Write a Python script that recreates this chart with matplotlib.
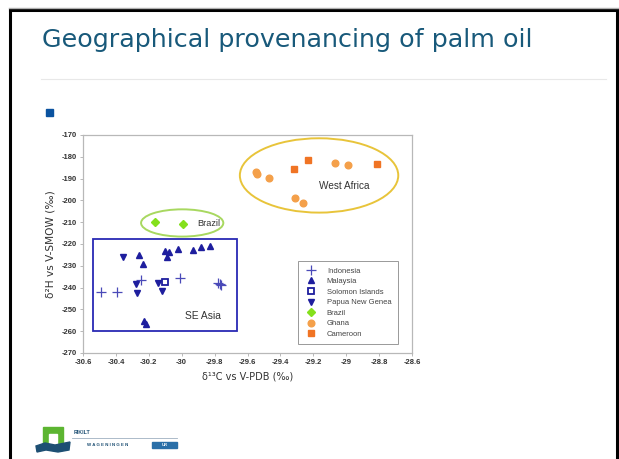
import matplotlib
matplotlib.use("Agg")
import matplotlib.pyplot as plt
from matplotlib.patches import Ellipse, Rectangle, Polygon
from matplotlib.lines import Line2D
from matplotlib.ticker import FuncFormatter

# ---- data ----
indonesia_x = [-30.49, -30.395, -30.247, -30.01, -29.78, -29.76, -29.77]
indonesia_y = [-242.2, -241.9, -236.5, -235.8, -237.9, -239.0, -238.5]
malaysia_x = [-30.258, -30.237, -30.10, -30.08, -30.09, -30.02, -29.93, -29.88, -29.83, -30.23, -30.22]
malaysia_y = [-225.0, -229.3, -223.3, -223.6, -226.0, -222.1, -222.7, -221.5, -220.8, -255.5, -256.6]
solomon_x = [-30.10]
solomon_y = [-237.6]
papua_x = [-30.359, -30.278, -30.274, -30.146, -30.122]
papua_y = [-226.1, -238.5, -242.6, -238.0, -241.6]
brazil_x = [-30.16, -29.99]
brazil_y = [-210.0, -210.8]
ghana_x = [-29.55, -29.54, -29.47, -29.31, -29.26, -29.07, -28.99]
ghana_y = [-187.1, -188.0, -189.5, -198.7, -201.0, -182.7, -183.7]
cameroon_x = [-29.32, -29.23, -28.81]
cameroon_y = [-185.7, -181.6, -183.1]

x_ticks = [-30.6, -30.4, -30.2, -30.0, -29.8, -29.6, -29.4, -29.2, -29.0, -28.8, -28.6]
y_ticks = [-170, -180, -190, -200, -210, -220, -230, -240, -250, -260, -270]

W, H = 619, 459
fig = plt.figure(figsize=(W / 100, H / 100), dpi=100)
fig.patch.set_facecolor("white")

def fx(px):
    return px / W

def fy(py):
    return 1 - py / H

# ---- slide decorations ----
fig.add_artist(Line2D([fx(9.5), fx(9.5)], [fy(10), fy(470)], color="black", lw=2.2, transform=fig.transFigure))
fig.add_artist(Line2D([fx(9.5), fx(619)], [fy(10), fy(10)], color="black", lw=2.2, transform=fig.transFigure))
fig.add_artist(Line2D([fx(616.5), fx(616.5)], [fy(10), fy(470)], color="black", lw=2.2, transform=fig.transFigure))
fig.add_artist(Line2D([fx(9), fx(619)], [fy(7.5), fy(7.5)], color="#b0b0b0", lw=1.0, transform=fig.transFigure))

fig.text(fx(42), fy(40), "Geographical provenancing of palm oil", fontsize=18.3,
         color="#18597a", family="DejaVu Sans", va="center", ha="left")
fig.add_artist(Line2D([fx(41), fx(606)], [fy(79), fy(79)], color="#e8e8e8", lw=0.8, transform=fig.transFigure))
fig.add_artist(Rectangle((fx(46), fy(116)), fx(7), 7 / H, color="#0b53a0", transform=fig.transFigure))

# logo
fig.add_artist(Rectangle((fx(43), fy(444)), fx(20), 17 / H, color="#5cb531", transform=fig.transFigure))
fig.add_artist(Rectangle((fx(49), fy(444)), fx(8), 10 / H, color="white", transform=fig.transFigure))
fig.add_artist(Polygon([(fx(36), fy(446)), (fx(45), fy(443)), (fx(55), fy(445)), (fx(70), fy(442)),
                        (fx(69), fy(450)), (fx(58), fy(452)), (fx(46), fy(450)), (fx(37), fy(452))],
                       closed=True, color="#1d4f73", transform=fig.transFigure))
fig.text(fx(74), fy(432), "RIKILT", fontsize=3.8, color="#1d4f73", family="Liberation Sans",
         fontweight="bold", va="center", ha="left")
fig.add_artist(Line2D([fx(72), fx(177)], [fy(437.5), fy(437.5)], color="#9fb0c0", lw=0.6, transform=fig.transFigure))
fig.text(fx(87), fy(444.5), "W A G E N I N G E N", fontsize=3.2, color="#1d4f73", family="Liberation Sans",
         fontweight="bold", va="center", ha="left")
fig.add_artist(Rectangle((fx(152), fy(448)), fx(25), 6 / H, color="#2a6fa8", transform=fig.transFigure))
fig.text(fx(164.5), fy(445), "UR", fontsize=3.0, color="white", family="Liberation Sans",
         fontweight="bold", va="center", ha="center")

# ---- chart ----
ax = fig.add_axes([fx(83), fy(353), (412 - 83) / W, (353 - 135) / H])
ax.set_xlim(-30.6, -28.6)
ax.set_ylim(-270, -170)
ax.set_xticks(x_ticks)
ax.set_yticks(y_ticks)
ax.xaxis.set_major_formatter(FuncFormatter(lambda v, p: f"{round(v, 1):g}"))
ax.yaxis.set_major_formatter(FuncFormatter(lambda v, p: f"{round(v):g}"))
for s in ax.spines.values():
    s.set_color("#b8b8b8")
    s.set_linewidth(0.9)
ax.tick_params(axis="both", length=2.5, width=0.7, color="#b8b8b8", pad=2,
               labelsize=5.5, labelcolor="#333333")
for lab in ax.get_xticklabels() + ax.get_yticklabels():
    lab.set_fontweight("bold")
    lab.set_family("Liberation Sans")

ax.set_xlabel("δ¹³C vs V-PDB (‰)", fontsize=7.0, family="DejaVu Sans", color="#333333", labelpad=4)
ax.set_ylabel("δ²H vs V-SMOW (‰)", fontsize=7.6, family="DejaVu Sans", color="#333333", labelpad=4)

navy = "#1e1e9e"
ax.plot(indonesia_x, indonesia_y, ls="none", marker="+", ms=6.5, mew=0.9, color="#4a4ab8", label="Indonesia")
ax.plot(malaysia_x, malaysia_y, ls="none", marker="^", ms=4.5, color=navy, label="Malaysia")
ax.plot(solomon_x, solomon_y, ls="none", marker="s", ms=4.2, mfc="white", mec=navy, mew=1.3, color=navy,
        label="Solomon Islands")
ax.plot(papua_x, papua_y, ls="none", marker="v", ms=4.5, color=navy, label="Papua New Genea")
ax.plot(brazil_x, brazil_y, ls="none", marker="D", ms=3.6, color="#84e01c", label="Brazil")
ax.plot(ghana_x, ghana_y, ls="none", marker="o", ms=4.8, color="#f4a04a", label="Ghana")
ax.plot(cameroon_x, cameroon_y, ls="none", marker="s", ms=4.6, color="#f07424", label="Cameroon")

# grouping shapes
ax.add_patch(Ellipse((-29.165, -188.55), 0.963, 34.1, fill=False, ec="#e8c43a", lw=1.4))
ax.add_patch(Ellipse((-29.997, -210.35), 0.50, 12.5, fill=False, ec="#a8d860", lw=1.4))
ax.add_patch(Rectangle((-30.537, -259.9), 0.871, 42.2, fill=False, ec="#2a2ab4", lw=1.3))
ax.text(-29.01, -193.2, "West Africa", fontsize=7.2, family="Liberation Sans", color="#333333",
        ha="center", va="center")
ax.text(-29.905, -210.8, "Brazil", fontsize=6.6, family="Liberation Sans", color="#333333",
        ha="left", va="center")
ax.text(-29.87, -253.0, "SE Asia", fontsize=7.4, family="Liberation Sans", color="#333333",
        ha="center", va="center")

leg = ax.legend(loc="lower left", bbox_to_anchor=(0.653, 0.041), frameon=True,
                fancybox=False, edgecolor="#999999", framealpha=1, borderpad=0.8,
                labelspacing=0.42, handlelength=1.9, handletextpad=1.1, borderaxespad=0,
                prop={"family": "Liberation Sans", "size": 5.5})
leg.get_frame().set_linewidth(0.7)
for t in leg.get_texts():
    t.set_color("#444444")

fig.savefig("out.png", dpi=100)
